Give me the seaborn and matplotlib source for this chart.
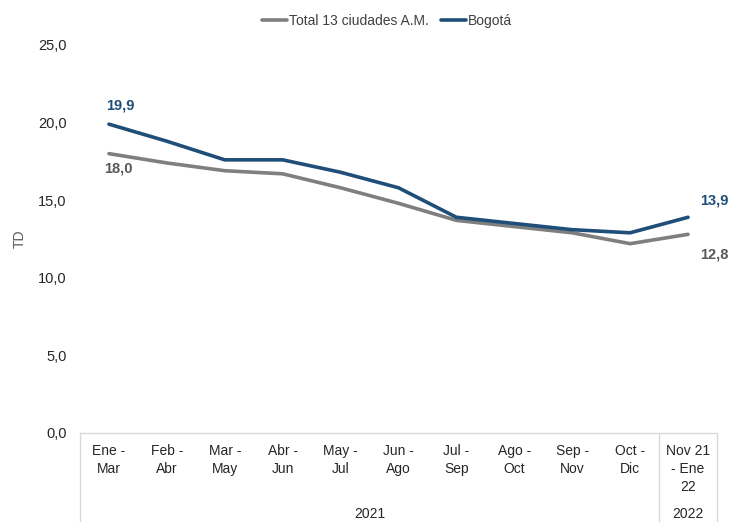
import matplotlib
matplotlib.use("Agg")
import matplotlib.pyplot as plt
import matplotlib.transforms as mtransforms
import pandas as pd
import seaborn as sns

PERIODS = ["Ene -\nMar", "Feb -\nAbr", "Mar -\nMay", "Abr -\nJun", "May -\nJul",
           "Jun -\nAgo", "Jul -\nSep", "Ago -\nOct", "Sep -\nNov", "Oct -\nDic",
           "Nov 21\n- Ene\n22"]
YEARS = ["2021", "2022"]
YEAR_SPANS = [(0, 10), (10, 11)]

TOTAL_13 = [18.0, 17.4, 16.9, 16.7, 15.8, 14.8, 13.7, 13.3, 12.9, 12.2, 12.8]
BOGOTA = [19.9, 18.8, 17.6, 17.6, 16.8, 15.8, 13.9, 13.5, 13.1, 12.9, 13.9]

SERIES_NAMES = ["Total 13 ciudades A.M.", "Bogotá"]
COLORS = {"Total 13 ciudades A.M.": "#7f7f7f", "Bogotá": "#1f4e79"}
LABEL_COLORS = {"Total 13 ciudades A.M.": "#595959", "Bogotá": "#1f4e79"}

sns.set_theme(style="white")
plt.rcParams["font.family"] = ["Liberation Sans", "DejaVu Sans"]

df = pd.DataFrame({
    "pos": list(range(len(PERIODS))) * 2,
    "serie": [SERIES_NAMES[0]] * len(PERIODS) + [SERIES_NAMES[1]] * len(PERIODS),
    "TD": TOTAL_13 + BOGOTA,
})

fig = plt.figure(figsize=(7.43, 5.22), dpi=100)
ax = fig.add_axes([80 / 743, 89 / 522, 637 / 743, 388 / 522])

sns.lineplot(data=df, x="pos", y="TD", hue="serie", hue_order=SERIES_NAMES,
             palette=COLORS, linewidth=2.6, sort=False, ax=ax, legend=False)

ax.set_xlim(-0.5, len(PERIODS) - 0.5)
ax.set_ylim(0, 25)
ax.set_yticks([0, 5, 10, 15, 20, 25])
ax.set_yticklabels([f"{v:.1f}".replace(".", ",") for v in [0, 5, 10, 15, 20, 25]])
ax.set_xticks(range(len(PERIODS)))
ax.set_xticklabels(PERIODS, fontsize=10, color="#262626", linespacing=1.35)
ax.tick_params(axis="x", length=0, pad=8)
ax.tick_params(axis="y", length=0, pad=9.5, labelsize=10.5, labelcolor="#262626")
ax.set_xlabel("")
ax.set_ylabel("TD", fontsize=10, color="#595959")
ax.yaxis.set_label_coords(-53 / 637, 0.5)

for side in ["left", "right", "top"]:
    ax.spines[side].set_visible(False)
ax.spines["bottom"].set_color("#d9d9d9")
ax.spines["bottom"].set_linewidth(1.0)

# category group lines and year labels under the axis
trans = mtransforms.blended_transform_factory(ax.transData, ax.transAxes)
for b in [-0.5, 9.5, 10.5]:
    ax.plot([b, b], [0, -89 / 388], transform=trans, color="#d9d9d9",
            linewidth=1.0, clip_on=False)
for year, (a, b) in zip(YEARS, YEAR_SPANS):
    ax.text((a + b - 1) / 2, -81 / 388, year, transform=trans, ha="center",
            va="center", fontsize=10, color="#262626")

# data labels at both ends
ax.text(0.2, BOGOTA[0] + 1.2, f"{BOGOTA[0]:.1f}".replace(".", ","), ha="center",
        va="center", fontsize=10.5, fontweight="bold", color=LABEL_COLORS["Bogotá"])
ax.text(0.17, TOTAL_13[0] - 0.95, f"{TOTAL_13[0]:.1f}".replace(".", ","), ha="center",
        va="center", fontsize=10.5, fontweight="bold",
        color=LABEL_COLORS["Total 13 ciudades A.M."])
ax.text(10.45, BOGOTA[-1] + 1.05, f"{BOGOTA[-1]:.1f}".replace(".", ","), ha="center",
        va="center", fontsize=10.5, fontweight="bold", color=LABEL_COLORS["Bogotá"])
ax.text(10.45, TOTAL_13[-1] - 1.3, f"{TOTAL_13[-1]:.1f}".replace(".", ","),
        ha="center", va="center", fontsize=10.5, fontweight="bold",
        color=LABEL_COLORS["Total 13 ciudades A.M."])

handles = [plt.Line2D([], [], color=COLORS[n], linewidth=2.6) for n in SERIES_NAMES]
fig.legend(handles, SERIES_NAMES, loc="center", bbox_to_anchor=(387 / 743, 1 - 21 / 522),
           ncol=2, frameon=False, fontsize=10, handlelength=1.8, handletextpad=0.1,
           columnspacing=0.9, labelcolor="#404040")

fig.savefig("out.png", dpi=100)
